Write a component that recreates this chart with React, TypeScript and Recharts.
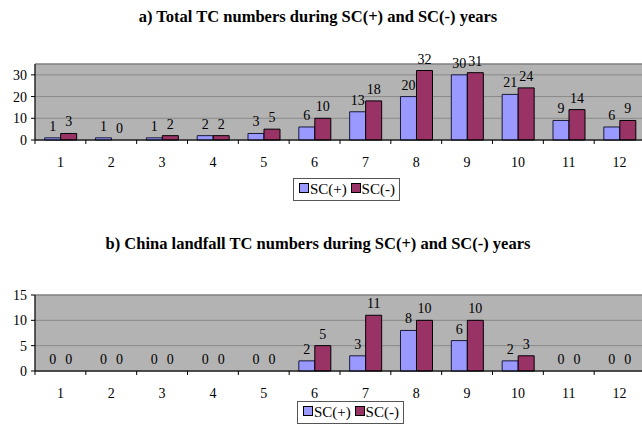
import React from "react";
import { BarChart, Bar, XAxis, YAxis, CartesianGrid, ReferenceArea, Rectangle } from "recharts";

const months = ["1", "2", "3", "4", "5", "6", "7", "8", "9", "10", "11", "12"];
const totalPlus = [1, 1, 1, 2, 3, 6, 13, 20, 30, 21, 9, 6];
const totalMinus = [3, 0, 2, 2, 5, 10, 18, 32, 31, 24, 14, 9];
const landPlus = [0, 0, 0, 0, 0, 2, 3, 8, 6, 2, 0, 0];
const landMinus = [0, 0, 0, 0, 0, 5, 11, 10, 10, 3, 0, 0];
const totalTicks = [0, 10, 20, 30];
const landTicks = [0, 5, 10, 15];

const FONT = "'Liberation Serif', 'Times New Roman', serif";
const BLUE = "#9999ff";
const MAROON = "#993366";

const totalData = months.map((m, i) => ({ month: m, plus: totalPlus[i], minus: totalMinus[i] }));
const landData = months.map((m, i) => ({ month: m, plus: landPlus[i], minus: landMinus[i] }));

function MonthTick(props: any) {
  const { x, y, payload, index, visibleTicksCount } = props;
  const half = payload.offset ?? 25;
  const last = index === visibleTicksCount - 1;
  return (
    <g>
      <line x1={x - half} x2={x - half} y1={y} y2={y + 4} stroke="#000" />
      {last && <line x1={x + half} x2={x + half} y1={y} y2={y + 4} stroke="#000" />}
      <text x={x} y={y + 27} textAnchor="middle" fontSize={14} style={{ fontFamily: FONT }} fill="#000">
        {payload.value}
      </text>
    </g>
  );
}

// bar plus its value written above it (zeros too, like the original)
function BarWithValue(props: any) {
  const { x, y, width, height, value, fill, stroke } = props;
  const v = Array.isArray(value) ? value[1] - value[0] : value;
  return (
    <g>
      {height > 0 && <Rectangle x={x} y={y} width={width} height={height} fill={fill} stroke={stroke} />}
      <text x={x + width / 2} y={y - 7} textAnchor="middle" fontSize={14} style={{ fontFamily: FONT }} fill="#000">
        {v}
      </text>
    </g>
  );
}

function Panel({ data, ticks, max, top, height, marginTop }: any) {
  return (
    <div style={{ position: "absolute", left: 0, top }}>
      <BarChart
        width={650}
        height={height}
        data={data}
        margin={{ top: marginTop, right: 5, left: 0, bottom: 0 }}
        barCategoryGap="19%"
        barGap={0}
      >
        <CartesianGrid vertical={false} fill="#b3b3b3" stroke="#8a8a8a" fillOpacity={1} />
        <ReferenceArea y1={0} y2={max} fill="none" stroke="#7a7a7a" ifOverflow="extendDomain" />
        <XAxis
          dataKey="month"
          height={30}
          tickSize={0}
          tickMargin={0}
          axisLine={{ stroke: "#000" }}
          tick={<MonthTick />}
          interval={0}
        />
        <YAxis
          width={35}
          domain={[0, max]}
          ticks={ticks}
          interval={0}
          tickSize={4}
          tickMargin={4}
          axisLine={{ stroke: "#000" }}
          tickLine={{ stroke: "#000" }}
          tick={{ fontSize: 14, fill: "#000", style: { fontFamily: FONT } }}
        />
        <Bar dataKey="plus" fill={BLUE} stroke="#1a1a3a" shape={BarWithValue} isAnimationActive={false} />
        <Bar dataKey="minus" fill={MAROON} stroke="#000" shape={BarWithValue} isAnimationActive={false} />
      </BarChart>
    </div>
  );
}

function LegendBox({ left, top }: { left: number; top: number }) {
  const sw = (c: string) => (
    <span style={{ display: "inline-block", width: 8, height: 8, background: c, border: "1px solid #000", marginRight: 1, verticalAlign: "1px" }} />
  );
  return (
    <div
      style={{
        position: "absolute",
        left,
        top,
        height: 21,
        padding: "0 4px 0 5px",
        border: "1px solid #555",
        fontFamily: FONT,
        fontSize: 15,
        lineHeight: "21px",
        whiteSpace: "nowrap",
        background: "#fff",
      }}
    >
      {sw(BLUE)}SC(+) {sw(MAROON)}SC(-)
    </div>
  );
}

const titleStyle: React.CSSProperties = {
  position: "absolute",
  left: 0,
  width: 636,
  textAlign: "center",
  fontFamily: FONT,
  fontWeight: "bold",
  fontSize: 16.5,
};

export default function App() {
  return (
    <div style={{ position: "absolute", left: 0, top: 0, width: 642, height: 427, overflow: "hidden", background: "#fff" }}>
      <div style={{ ...titleStyle, top: 7 }}>a) Total TC numbers during SC(+) and SC(-) years</div>
      <Panel data={totalData} ticks={totalTicks} max={35} top={0} height={170} marginTop={64} />
      <LegendBox left={293} top={178} />
      <div style={{ ...titleStyle, top: 234 }}>b) China landfall TC numbers during SC(+) and SC(-) years</div>
      <Panel data={landData} ticks={landTicks} max={15} top={210} height={191} marginTop={85} />
      <LegendBox left={297} top={401} />
    </div>
  );
}
